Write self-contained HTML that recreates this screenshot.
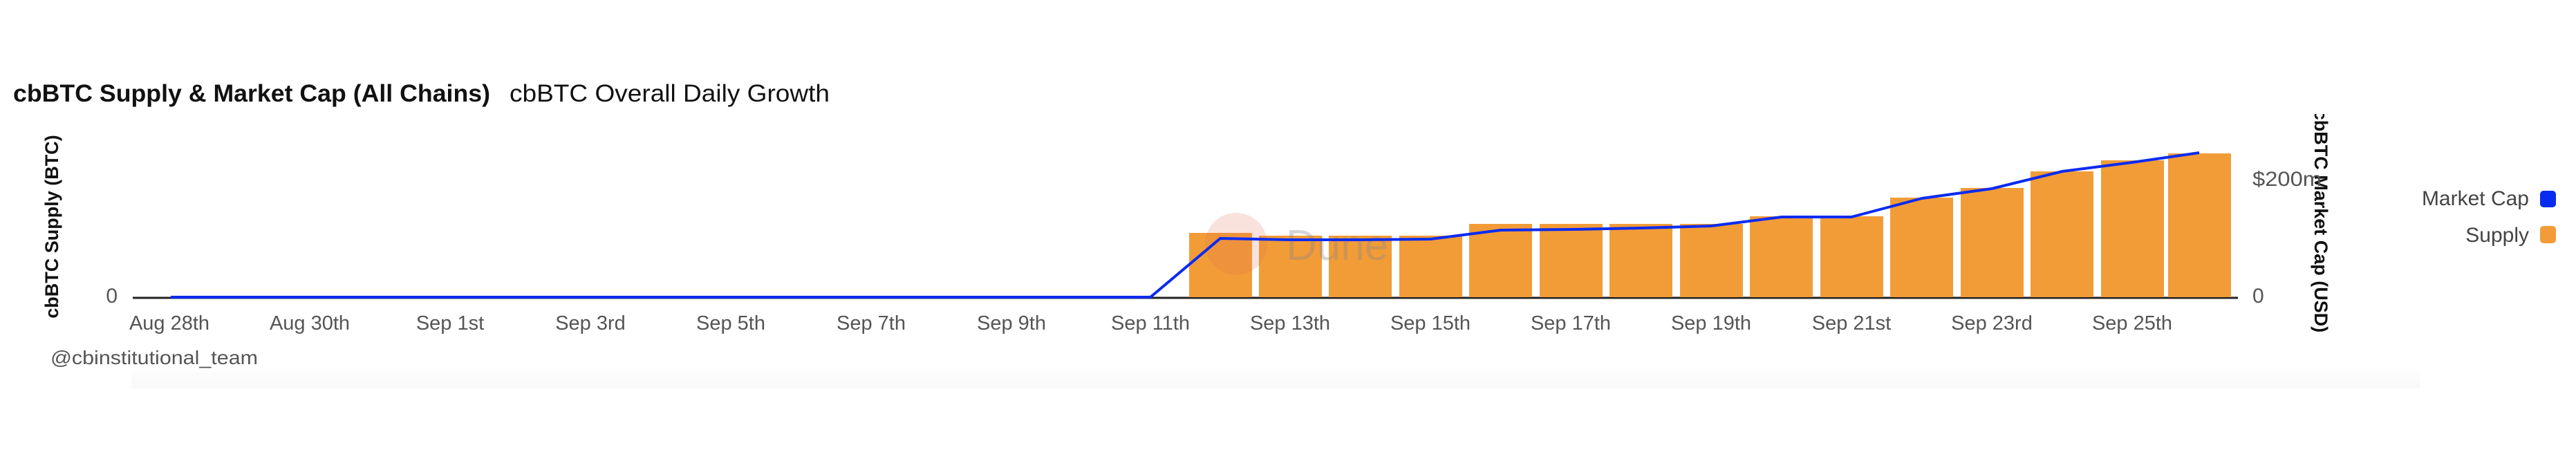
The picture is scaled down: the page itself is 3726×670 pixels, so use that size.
<!DOCTYPE html>
<html><head><meta charset="utf-8"><style>
html,body{margin:0;padding:0;background:#fff;width:3726px;height:670px;overflow:hidden}
svg{display:block}
</style></head><body>
<svg width="3726" height="670" xmlns="http://www.w3.org/2000/svg" font-family="'Liberation Sans',sans-serif">
<defs>
<linearGradient id="g" x1="0" y1="0" x2="0" y2="1"><stop offset="0" stop-color="#fff"/><stop offset="1" stop-color="#f8f8f8"/></linearGradient>
<clipPath id="rc"><rect x="3300" y="165" width="120" height="400"/></clipPath>
</defs>
<rect x="190" y="530" width="3310" height="32" fill="url(#g)"/>
<text x="19" y="147" font-weight="bold" font-size="35" fill="#111" textLength="690" lengthAdjust="spacingAndGlyphs">cbBTC Supply &amp; Market Cap (All Chains)</text>
<text x="737" y="147" font-size="35" fill="#111" textLength="463" lengthAdjust="spacingAndGlyphs">cbBTC Overall Daily Growth</text>
<text transform="translate(84,328) rotate(-90)" text-anchor="middle" font-weight="bold" font-size="27" fill="#111">cbBTC Supply (BTC)</text>
<g clip-path="url(#rc)"><text transform="translate(3348,320) rotate(90)" text-anchor="middle" font-weight="bold" font-size="27" fill="#111">cbBTC Market Cap (USD)</text></g>
<text x="170" y="438" text-anchor="end" font-size="30" fill="#555">0</text>
<text x="3258" y="269" font-size="30" fill="#555" textLength="100" lengthAdjust="spacingAndGlyphs">$200m</text>
<text x="3258" y="438" font-size="30" fill="#555">0</text>
<line x1="192" y1="431" x2="3237" y2="431" stroke="#222" stroke-width="3"/>
<g fill="#f29c38">
<rect x="1720" y="337" width="91" height="93"/>
<rect x="1821" y="341" width="91" height="89"/>
<rect x="1922" y="341" width="91" height="89"/>
<rect x="2024" y="341" width="91" height="89"/>
<rect x="2125" y="324" width="91" height="106"/>
<rect x="2227" y="324" width="91" height="106"/>
<rect x="2328" y="324" width="91" height="106"/>
<rect x="2430" y="324" width="91" height="106"/>
<rect x="2531" y="313" width="91" height="117"/>
<rect x="2633" y="313" width="91" height="117"/>
<rect x="2734" y="286" width="91" height="144"/>
<rect x="2836" y="272" width="91" height="158"/>
<rect x="2937" y="248" width="91" height="182"/>
<rect x="3039" y="232" width="91" height="198"/>
<rect x="3136" y="222" width="91" height="208"/>
</g>
<circle cx="1788" cy="353" r="45" fill="#e07050" opacity="0.2"/>
<text x="1860" y="376" font-size="62" fill="#888" opacity="0.35">Dune</text>
<polyline fill="none" stroke="#0a2bf0" stroke-width="4" stroke-linejoin="round" points="247,430 1664,430 1765,345 1866,347 1968,347 2069,346 2171,333 2272,332 2374,330 2475,327 2577,314 2678,314 2780,287 2881,273 2983,248 3084,235 3181,221"/>
<g font-size="29" fill="#555" text-anchor="middle">
<text x="245" y="477">Aug 28th</text>
<text x="448" y="477">Aug 30th</text>
<text x="651" y="477">Sep 1st</text>
<text x="854" y="477">Sep 3rd</text>
<text x="1057" y="477">Sep 5th</text>
<text x="1260" y="477">Sep 7th</text>
<text x="1463" y="477">Sep 9th</text>
<text x="1664" y="477">Sep 11th</text>
<text x="1866" y="477">Sep 13th</text>
<text x="2069" y="477">Sep 15th</text>
<text x="2272" y="477">Sep 17th</text>
<text x="2475" y="477">Sep 19th</text>
<text x="2678" y="477">Sep 21st</text>
<text x="2881" y="477">Sep 23rd</text>
<text x="3084" y="477">Sep 25th</text>
</g>
<text x="73" y="527" font-size="28" fill="#555" textLength="300" lengthAdjust="spacingAndGlyphs">@cbinstitutional_team</text>
<g font-size="30" fill="#444" text-anchor="end">
<text x="3658" y="297">Market Cap</text>
<text x="3658" y="350">Supply</text>
</g>
<rect x="3674" y="276" width="23" height="24" rx="5" fill="#0a2bf0"/>
<rect x="3674" y="327" width="23" height="25" rx="5" fill="#f29c38"/>
</svg>
</body></html>
